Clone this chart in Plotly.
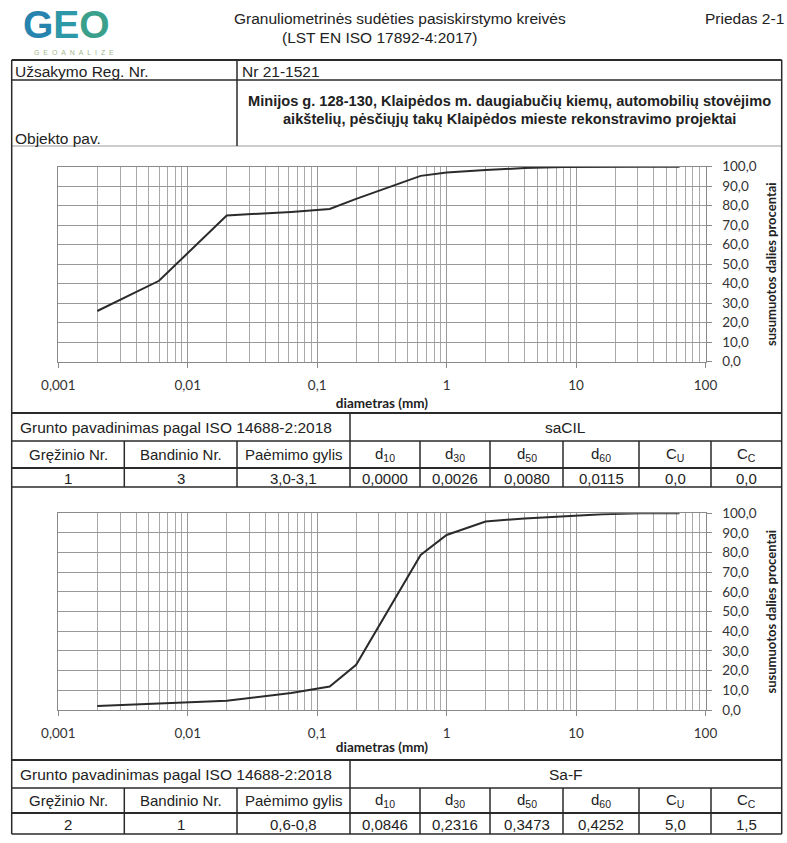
import plotly.graph_objects as go

W, H = 787, 843

# Particle diameters (mm) of the sieve / hydrometer readings
diam = [0.002, 0.006, 0.02, 0.063, 0.125, 0.2, 0.63, 1, 2, 4, 8, 16, 31.5, 63]
# Cumulative passing (%) for each sample
passing_1 = [26.0, 41.5, 75.0, 76.8, 78.3, 83.5, 95.3, 97.0, 98.3, 99.3, 99.8, 100, 100, 100]
passing_2 = [2.0, 3.2, 4.7, 8.6, 11.9, 23.0, 78.8, 89.0, 95.8, 97.4, 98.5, 99.5, 100, 100]

# Axis ticks
x_tickvals = [0.001, 0.01, 0.1, 1, 10, 100]
x_ticktext = ["0,001", "0,01", "0,1", "1", "10", "100"]
x_minor = [m * 10 ** e for e in range(-3, 2) for m in range(2, 10)]

# Header
order_no = "Nr 21-1521"
object_lines = ["Minijos g. 128-130, Klaipėdos m. daugiabučių kiemų, automobilių stovėjimo",
                "aikštelių, pėsčiųjų takų Klaipėdos mieste rekonstravimo projektai"]

# Sample tables
soil_names = ["saCIL", "Sa-F"]
borehole = ["1", "2"]
sample_no = ["3", "1"]
depth = ["3,0-3,1", "0,6-0,8"]
d10 = [0.0000, 0.0846]
d30 = [0.0026, 0.2316]
d50 = [0.0080, 0.3473]
d60 = [0.0115, 0.4252]
cu = [0.0, 5.0]
cc = [0.0, 1.5]

TXT = "Liberation Sans, Arial, sans-serif"
CHF = "Lato, Calibri, sans-serif"
FS = 15.5


def px(x):
    return x / W


def py(y):
    return 1 - y / H


shapes = []
annotations = []


def hline(x0, x1, y, color="#2a2a2a", width=1.5):
    shapes.append(dict(type="line", xref="paper", yref="paper", x0=px(x0), x1=px(x1),
                       y0=py(y), y1=py(y), line=dict(color=color, width=width)))


def vline(x, y0, y1, color="#2a2a2a", width=1.5):
    shapes.append(dict(type="line", xref="paper", yref="paper", x0=px(x), x1=px(x),
                       y0=py(y0), y1=py(y1), line=dict(color=color, width=width)))


def text(x, y, s, size=FS, anchor="left", color="#222", family=TXT, vanchor="middle"):
    annotations.append(dict(x=px(x), y=py(y), xref="paper", yref="paper", text=s,
                            showarrow=False, xanchor=anchor, yanchor=vanchor,
                            font=dict(family=family, size=size, color=color)))


def comma(v, n):
    return f"{v:.{n}f}".replace(".", ",")


# ---- page header ----
logo = ('<b><span style="color:#2784ae">G</span>'
        '<span style="color:#2c98a8">E</span>'
        '<span style="color:#3aa08c">O</span></b>')
text(21, 1, logo, size=39, vanchor="top")
text(74, 47, "\u00a0\u00a0".join("GEOANALIZE"), size=7, anchor="center", color="#a3b78f",
     vanchor="top")
text(400, 18, "Granuliometrinės sudėties pasiskirstymo kreivės", anchor="center")
text(379, 38, "(LST EN ISO 17892-4:2017)", anchor="center")
text(786, 18, "Priedas 2-1", anchor="right")

L, R = 11.7, 781.7

# header table
hline(L, R, 60, width=2)
hline(L, R, 80)
hline(L, R, 146, color="#9a9a9a", width=1)
vline(237, 60, 146)
text(13, 71, "Užsakymo Reg. Nr.")
text(240, 71, order_no)
text(13, 138, "Objekto pav.")
text(509, 101, "<b>" + object_lines[0] + "</b>", size=14.6, anchor="center")
text(509, 119, "<b>" + object_lines[1] + "</b>", size=14.6, anchor="center")

# outer frame
vline(L, 60, 834)
vline(R, 60, 834)

# ---- sample tables ----
col_x = [L, 124.3, 237, 350, 420, 490, 563, 639, 711, R]
headers = ["Gręžinio Nr.", "Bandinio Nr.", "Paėmimo gylis", "d<sub>10</sub>", "d<sub>30</sub>",
           "d<sub>50</sub>", "d<sub>60</sub>", "C<sub>U</sub>", "C<sub>C</sub>"]
table_rows = [(413, 441, 468, 487), (760, 788, 813, 834)]

for i, (t0, t1, t2, t3) in enumerate(table_rows):
    hline(L, R, t0, width=2)
    hline(L, R, t1)
    hline(L, R, t2, width=2)
    hline(L, R, t3)
    vline(350, t0, t3)
    for cx in col_x[1:-1]:
        if cx != 350:
            vline(cx, t1, t3)
    text(18, (t0 + t1) / 2, "Grunto pavadinimas pagal ISO 14688-2:2018")
    text((350 + R) / 2, (t0 + t1) / 2, soil_names[i], anchor="center")
    values = [borehole[i], sample_no[i], depth[i], comma(d10[i], 4), comma(d30[i], 4),
              comma(d50[i], 4), comma(d60[i], 4), comma(cu[i], 1), comma(cc[i], 1)]
    for j in range(9):
        cxm = (col_x[j] + col_x[j + 1]) / 2
        text(cxm, (t1 + t2) / 2, headers[j], size=15, anchor="center")
        text(cxm, (t2 + t3) / 2 + 1, values[j], size=15, anchor="center")

# ---- grading curves ----
fig = go.Figure()
fig.add_trace(go.Scatter(x=diam, y=passing_1, mode="lines", xaxis="x", yaxis="y",
                         line=dict(color="#2b2b2b", width=2), showlegend=False))
fig.add_trace(go.Scatter(x=diam, y=passing_2, mode="lines", xaxis="x2", yaxis="y2",
                         line=dict(color="#2b2b2b", width=2), showlegend=False))

xdom = [px(58.3), px(705.5)]
grid_major = "#999999"
grid_minor = "#a9a9a9"


def xaxis_cfg(anchor, standoff):
    return dict(type="log", range=[-3, 2], domain=xdom, anchor=anchor, automargin=False,
                tickmode="array", tickvals=x_tickvals, ticktext=x_ticktext,
                ticks="outside", ticklen=5, tickcolor="#8a8a8a", ticklabelstandoff=6,
                showgrid=True, gridcolor=grid_major, gridwidth=1,
                minor=dict(tickmode="array", tickvals=x_minor, showgrid=True,
                           gridcolor=grid_minor, gridwidth=1, ticks=""),
                showline=True, linecolor="#8a8a8a", linewidth=1, mirror=True,
                tickfont=dict(family=CHF, size=13.5, color="#333"),
                title=dict(text="<b>diametras (mm)</b>", standoff=standoff,
                           font=dict(family=CHF, size=13.5, color="#222")),
                zeroline=False)


def yaxis_cfg(anchor, dom):
    return dict(range=[0, 100], dtick=10, domain=dom, anchor=anchor, side="right",
                automargin=False,
                tickformat=".1f", ticks="outside", ticklen=5, tickcolor="#8a8a8a",
                ticklabelstandoff=8,
                showgrid=True, gridcolor=grid_major, gridwidth=1,
                showline=True, linecolor="#8a8a8a", linewidth=1, mirror=True,
                tickfont=dict(family=CHF, size=13.5, color="#333"),
                title=dict(text="<b>susumuotos dalies procentai</b>", standoff=11,
                           font=dict(family=CHF, size=13, color="#222")),
                zeroline=False)


fig.update_layout(
    template="none",
    width=W, height=H, margin=dict(l=0, r=0, t=0, b=0, pad=0),
    paper_bgcolor="white", plot_bgcolor="white",
    separators=", ",
    xaxis=xaxis_cfg("y", 6),
    yaxis=yaxis_cfg("x", [py(361.7), py(166.7)]),
    xaxis2=xaxis_cfg("y2", 2),
    yaxis2=yaxis_cfg("x2", [py(710), py(513.3)]),
    shapes=shapes,
    annotations=annotations,
)

fig.write_html("out.html")
